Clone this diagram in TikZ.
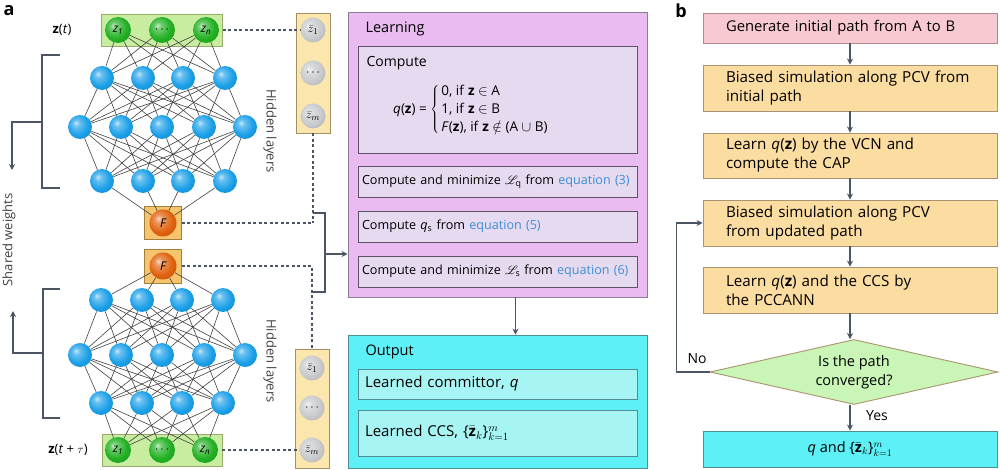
\documentclass[tikz,border=0pt]{standalone}
\usepackage{fontspec}
\setmainfont{Open Sans}
\usepackage{mathrsfs}
\usetikzlibrary{arrows.meta,shapes.geometric,positioning}

\definecolor{lineCol}{HTML}{4B5563}
\definecolor{textCol}{HTML}{333338}
\definecolor{greenFill}{HTML}{C8EDA0}
\definecolor{greenDraw}{HTML}{98AC6A}
\definecolor{ballGreen}{HTML}{22B022}
\definecolor{neuronBlue}{HTML}{1A9FE8}
\definecolor{fOrange}{HTML}{E0620E}
\definecolor{fBox}{HTML}{F7C46E}
\definecolor{fBoxDraw}{HTML}{A0803C}
\definecolor{zbarFill}{HTML}{FBE7AE}
\definecolor{zbarDraw}{HTML}{A39061}
\definecolor{zbarBall}{HTML}{C8CACC}
\definecolor{learnFill}{HTML}{E9BBF0}
\definecolor{learnDraw}{HTML}{8C7C94}
\definecolor{innerFill}{HTML}{E6DAF0}
\definecolor{innerDraw}{HTML}{5E5468}
\definecolor{outFill}{HTML}{5DF0F6}
\definecolor{outInner}{HTML}{A6F4F4}
\definecolor{outDraw}{HTML}{4E8E95}
\definecolor{pinkFill}{HTML}{F8C9D1}
\definecolor{pinkDraw}{HTML}{B08A90}
\definecolor{stepFill}{HTML}{FCDDA1}
\definecolor{stepDraw}{HTML}{A89470}
\definecolor{diaFill}{HTML}{C9F5B7}
\definecolor{eqBlue}{HTML}{3C8FD4}
\colorlet{sphereCol}{neuronBlue}

% bright sphere shading
\pgfdeclareradialshading[sphereCol]{sphere}{\pgfqpoint{-9bp}{9bp}}{%
  color(0bp)=(sphereCol!25!white); color(7bp)=(sphereCol!65!white);
  color(22bp)=(sphereCol); color(42bp)=(sphereCol!80!black); color(50bp)=(sphereCol!65!black)}

\newcommand{\eqref}[1]{\textcolor{eqBlue}{equation (#1)}}
\newcommand{\zbarset}{\{$\bar{\mathbf{z}}_k$\}$_{k=1}^{m}$}

\begin{document}
\begin{tikzpicture}[x=1pt,y=-1pt,font=\color{textCol}]

        % Styles
        \tikzstyle{neuron}=[circle,minimum size=24pt,inner sep=0pt,/utils/exec={\colorlet{sphereCol}{neuronBlue}},shading=sphere]
        \tikzstyle{input ball}=[circle,minimum size=26pt,inner sep=0pt,/utils/exec={\colorlet{sphereCol}{ballGreen}},shading=sphere,font=\fontsize{12}{12}\selectfont\itshape]
        \tikzstyle{f ball}=[circle,minimum size=27pt,inner sep=0pt,/utils/exec={\colorlet{sphereCol}{fOrange}},shading=sphere,font=\fontsize{12}{12}\selectfont\itshape]
        \tikzstyle{zbar ball}=[circle,minimum size=25pt,inner sep=0pt,/utils/exec={\colorlet{sphereCol}{zbarBall}},shading=sphere,font=\fontsize{12.5}{12.5}\selectfont]
        \tikzstyle{link}=[line width=0.6pt,black!75]
        \tikzstyle{dash link}=[line width=1.4pt,lineCol,dash pattern=on 3pt off 2.5pt]
        \tikzstyle{flow}=[line width=1.4pt,lineCol,-{Stealth[length=6pt,width=6pt]}]
        \tikzstyle{bracket}=[line width=1.4pt,lineCol]
        \tikzstyle{sub box}=[draw=innerDraw,fill=innerFill,line width=0.9pt,minimum width=279pt,text width=271pt,inner xsep=4pt,align=left,font=\fontsize{12.6}{14}\selectfont]
        \tikzstyle{out box}=[draw=outDraw,fill=outInner,line width=0.9pt,minimum width=279pt,text width=265pt,inner xsep=7pt,align=left,font=\fontsize{15}{17}\selectfont]
        \tikzstyle{step box}=[draw=stepDraw,fill=stepFill,line width=0.9pt,minimum width=294pt,text width=248pt,inner xsep=23pt,align=left,font=\fontsize{15.2}{19}\selectfont]

        \useasboundingbox (0,0) rectangle (1000,470);

        %panel labels
        \node[font=\bfseries\fontsize{18}{18}\selectfont,text=black] (pa) at (9,11) {a};
        \node[font=\bfseries\fontsize{18}{18}\selectfont,text=black] (pb) at (681,11) {b};

        %top network
        \node[draw=greenDraw,fill=greenFill,line width=0.9pt,minimum width=121pt,minimum height=32pt] (inbox) at (162,30) {};
        \node[draw=fBoxDraw,fill=fBox,line width=0.9pt,minimum width=37pt,minimum height=33pt] (ftopbox) at (163,223) {};
        \foreach \i/\x/\t in {1/118/z\textsubscript{1},2/162/\textup{$\cdots$},3/206/z\textsubscript{n}}
            \node[input ball] (zi\i) at (\x,30) {\t};
        \foreach \i/\x in {1/102,2/143,3/183,4/225}
            \node[neuron] (ta\i) at (\x,78) {};
        \foreach \i/\x in {1/80,2/121,3/162,4/204,5/245}
            \node[neuron] (tb\i) at (\x,127) {};
        \foreach \i/\x in {1/102,2/143,3/183,4/225}
            \node[neuron] (tc\i) at (\x,181) {};
        \node[f ball] (ftop) at (163,223) {F};
        \foreach \i in {1,...,3}
            \foreach \j in {1,...,4}
                \draw[link] (zi\i) -- (ta\j);
        \foreach \i in {1,...,4}
            \foreach \j in {1,...,5}
                {\draw[link] (ta\i) -- (tb\j);
                 \draw[link] (tc\i) -- (tb\j);}
        \foreach \i in {1,...,4}
            \draw[link] (tc\i) -- (ftop);
        \node[font=\fontsize{13}{13}\selectfont] (zt) at (62,30) {\textbf{z}(\textit{t})};
        \node[rotate=-90,font=\fontsize{13}{13}\selectfont,text=black!75] (hidtop) at (270,131) {Hidden layers};

        %bottom network
        \node[draw=fBoxDraw,fill=fBox,line width=0.9pt,minimum width=37pt,minimum height=34pt] (fbotbox) at (163,266) {};
        \node[draw=greenDraw,fill=greenFill,line width=0.9pt,minimum width=120pt,minimum height=32pt] (outbox) at (162,450) {};
        \node[f ball] (fbot) at (163,266) {F};
        \foreach \i/\x in {1/101,2/142,3/182,4/223}
            \node[neuron] (ba\i) at (\x,300) {};
        \foreach \i/\x in {1/80,2/121,3/162,4/204,5/245}
            \node[neuron] (bb\i) at (\x,355) {};
        \foreach \i/\x in {1/101,2/142,3/182,4/223}
            \node[neuron] (bc\i) at (\x,403) {};
        \foreach \i/\x/\t in {1/118/z\textsubscript{1},2/162/\textup{$\cdots$},3/205/z\textsubscript{n}}
            \node[input ball] (zo\i) at (\x,450) {\t};
        \foreach \i in {1,...,4}
            \draw[link] (fbot) -- (ba\i);
        \foreach \i in {1,...,4}
            \foreach \j in {1,...,5}
                {\draw[link] (ba\i) -- (bb\j);
                 \draw[link] (bc\i) -- (bb\j);}
        \foreach \i in {1,...,4}
            \foreach \j in {1,...,3}
                \draw[link] (bc\i) -- (zo\j);
        \node[font=\fontsize{13}{13}\selectfont] (ztt) at (68,450) {\textbf{z}(\textit{t} + \textit{$\tau$})};
        \node[rotate=-90,font=\fontsize{13}{13}\selectfont,text=black!75] (hidbot) at (270,361) {Hidden layers};

        %shared weights
        \draw[bracket] (60,55) -- (42,55) -- (42,188) -- (60,188);
        \draw[flow] (42,122) -- (12,122) -- (12,170);
        \draw[bracket] (60,289) -- (43,289) -- (43,418) -- (60,418);
        \draw[flow] (43,353) -- (13,353) -- (13,311);
        \node[rotate=90,font=\fontsize{13}{13}\selectfont,text=black!75] (shared) at (9,240) {Shared weights};

        %zbar columns
        \node[draw=zbarDraw,fill=zbarFill,line width=0.9pt,minimum width=34pt,minimum height=120pt] (zbtbox) at (313,73) {};
        \foreach \i/\y/\t in {1/30/$\bar{z}_1$,2/73/$\cdots$,3/116/$\bar{z}_m$}
            \node[zbar ball] (zbt\i) at (313,\y) {\t};
        \node[draw=zbarDraw,fill=zbarFill,line width=0.9pt,minimum width=34pt,minimum height=119pt] (zbbbox) at (312,408.5) {};
        \foreach \i/\y/\t in {1/368/$\bar{z}_1$,2/408/$\cdots$,3/450/$\bar{z}_m$}
            \node[zbar ball] (zbb\i) at (312,\y) {\t};

        %dashed links
        \coordinate (jt) at (313,223);
        \coordinate (jb) at (312,266);
        \draw[dash link] (inbox.east) -- (zbt1.west);
        \draw[dash link] (zbtbox.south) -- (jt);
        \draw[dash link] (ftopbox.east) -- (jt);
        \draw[dash link] (fbotbox.east) -- (jb) -- (zbbbox.north);
        \draw[dash link] (outbox.east) -- (zbb3.west);

        %learning
        \node[draw=learnDraw,fill=learnFill,line width=0.9pt,minimum width=299pt,minimum height=285pt] (learn) at (497.5,154.5) {};
        \node[anchor=west,font=\fontsize{14.5}{14.5}\selectfont] (learnlab) at (362,29) {Learning};
        \node[sub box,minimum height=107pt] (cbox) at (497.5,99.5) {};
        \node[anchor=west,font=\fontsize{14}{14}\selectfont] (clab) at (363,63) {Compute};
        \node[anchor=west,font=\fontsize{13.5}{16}\selectfont,inner sep=0pt] (qeq) at (393,110)
            {\textit{q}(\textbf{z}) = $\left\{\begin{tabular}{@{\,}l@{}}0, if \textbf{z} $\in$ A\\[2pt] 1, if \textbf{z} $\in$ B\\[2pt] \textit{F}(\textbf{z}), if \textbf{z} $\notin$ (A $\cup$ B)\end{tabular}\right.$};
        \node[sub box,minimum height=31pt] (lq) at (497.5,181.5) {Compute and minimize $\mathscr{L}_{\mathrm{q}}$ from \eqref{3}};
        \node[sub box,minimum height=31pt] (qs) at (497.5,226.5) {Compute \textit{q}\textsubscript{s} from \eqref{5}};
        \node[sub box,minimum height=31pt] (ls) at (497.5,271.5) {Compute and minimize $\mathscr{L}_{\mathrm{s}}$ from \eqref{6}};

        %bracket into learning
        \coordinate (brt) at (313,213);
        \coordinate (brb) at (313,292);
        \coordinate (brm) at (325,254);
        \draw[bracket] (brt) -- (325,213) -- (325,292) -- (brb);
        \draw[flow] (brm) -- (brm -| learn.west);

        %output
        \node[draw=outDraw,fill=outFill,line width=0.9pt,minimum width=299pt,minimum height=133pt] (out) at (497.5,401.5) {};
        \node[anchor=west,font=\fontsize{14.5}{14.5}\selectfont] (outlab) at (362,352) {Output};
        \node[out box,minimum height=30pt] (comm) at (497.5,384) {Learned committor, \textit{q}};
        \node[out box,minimum height=46pt] (ccs) at (497.5,433) {Learned CCS, \zbarset};
        \draw[flow] ([xshift=18pt]learn.south) -- ([xshift=18pt]learn.south |- out.north);

        %panel b flow chart
        \node[step box,draw=pinkDraw,fill=pinkFill,minimum height=30pt,font=\fontsize{14.8}{19}\selectfont] (g1) at (850,28) {Generate initial path from A to B};
        \node[step box,minimum height=46pt] (g2) at (850,88) {Biased simulation along PCV from\\initial path};
        \node[step box,minimum height=45pt] (g3) at (850,155.5) {Learn \textit{q}(\textbf{z}) by the VCN and\\compute the CAP};
        \node[step box,minimum height=46pt] (g4) at (850,223) {Biased simulation along PCV\\from updated path};
        \node[step box,minimum height=46pt] (g5) at (850,290) {Learn \textit{q}(\textbf{z}) and the CCS by\\the PCCANN};
        \node[diamond,draw=stepDraw,fill=diaFill,line width=0.9pt,aspect=4.4,minimum width=288pt,minimum height=65pt,inner sep=0pt,align=center,font=\fontsize{14.5}{19}\selectfont] (conv) at (854,372) {Is the path\\converged?};
        \node[draw=outDraw,fill=outFill,line width=0.9pt,minimum width=294pt,minimum height=36pt,font=\fontsize{14.5}{17}\selectfont] (fin) at (850,449) {\textit{q} and \zbarset};
        \draw[flow] (g1) -- (g2);
        \draw[flow] (g2) -- (g3);
        \draw[flow] (g3) -- (g4);
        \draw[flow] (g4) -- (g5);
        \draw[flow] (g5.south) -- (g5.south |- conv.north);
        \draw[flow] (conv.south -| fin.north) -- (fin.north);
        \draw[flow] (conv.west) -- ++(-33,0) |- (g4.west);
        \node[font=\fontsize{14}{14}\selectfont] (nolab) at (697,359) {No};
        \node[font=\fontsize{14}{14}\selectfont] (yeslab) at (877,416) {Yes};
\end{tikzpicture}
\end{document}
